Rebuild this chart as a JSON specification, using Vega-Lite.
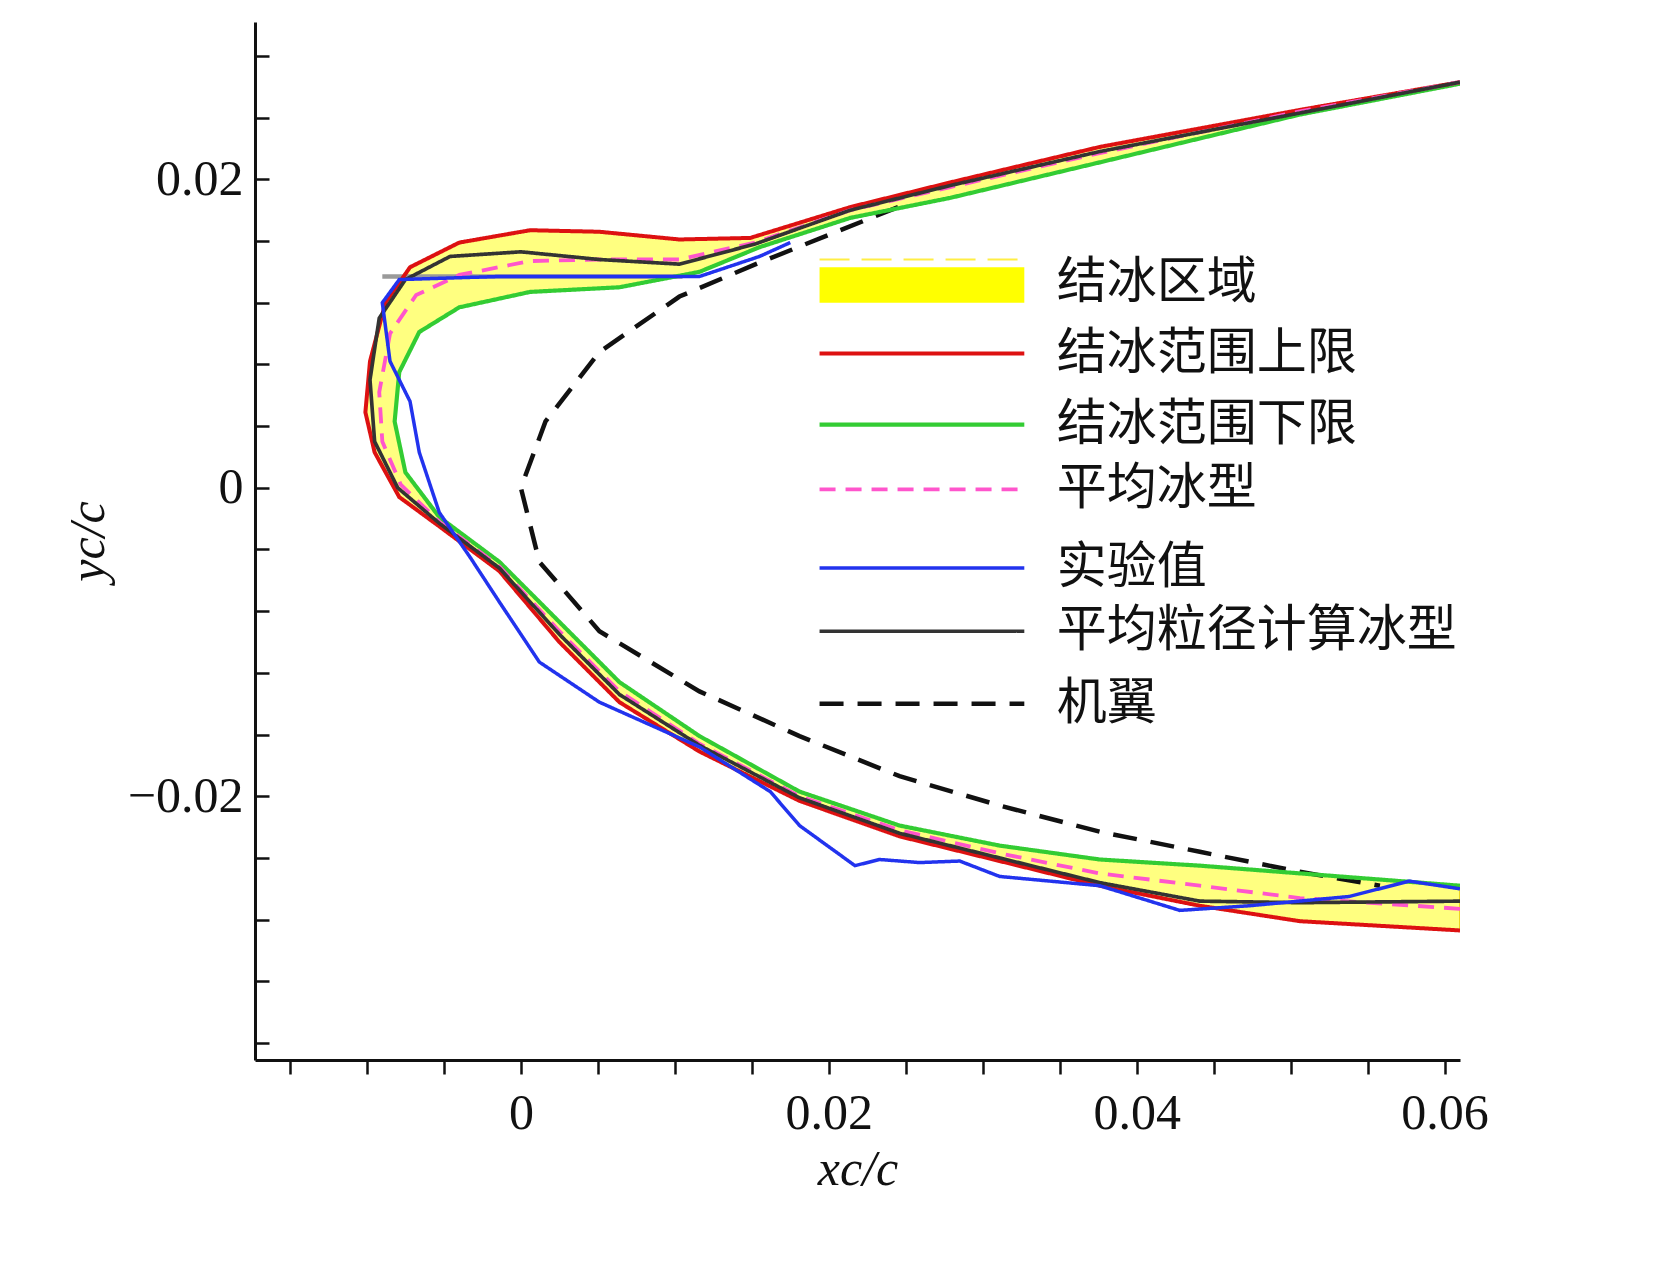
{
  "$schema": "https://vega.github.io/schema/vega-lite/v6.json",
  "autosize": "none",
  "width": 1205,
  "height": 1038,
  "padding": {"left": 255, "top": 22, "right": 199, "bottom": 220},
  "background": "white",
  "datasets": {
    "ice": [
      {"o":1,"x":0.061,"y":0.0263},{"o":2,"x":0.0506,"y":0.0245},{"o":3,"x":0.0376,"y":0.0221},{"o":4,"x":0.0279,"y":0.0198},{"o":5,"x":0.0214,"y":0.0182},{"o":6,"x":0.0149,"y":0.0162},{"o":7,"x":0.0103,"y":0.0161},{"o":8,"x":0.0051,"y":0.0166},{"o":9,"x":0.0006,"y":0.0167},{"o":10,"x":-0.004,"y":0.0159},{"o":11,"x":-0.0072,"y":0.0143},{"o":12,"x":-0.0088,"y":0.012},{"o":13,"x":-0.0098,"y":0.0082},{"o":14,"x":-0.0101,"y":0.0049},{"o":15,"x":-0.0095,"y":0.0023},{"o":16,"x":-0.0079,"y":-0.0006},{"o":17,"x":-0.0053,"y":-0.0025},{"o":18,"x":-0.0014,"y":-0.0054},{"o":19,"x":0.0025,"y":-0.01},{"o":20,"x":0.0064,"y":-0.0139},{"o":21,"x":0.0116,"y":-0.0171},{"o":22,"x":0.0181,"y":-0.0203},{"o":23,"x":0.0246,"y":-0.0226},{"o":24,"x":0.0311,"y":-0.0242},{"o":25,"x":0.0376,"y":-0.0258},{"o":26,"x":0.0441,"y":-0.0271},{"o":27,"x":0.0506,"y":-0.0281},{"o":28,"x":0.061,"y":-0.0287},
      {"o":29,"x":0.061,"y":-0.0258},{"o":30,"x":0.0506,"y":-0.025},{"o":31,"x":0.0441,"y":-0.0245},{"o":32,"x":0.0376,"y":-0.0241},{"o":33,"x":0.0311,"y":-0.0232},{"o":34,"x":0.0246,"y":-0.0219},{"o":35,"x":0.0181,"y":-0.0197},{"o":36,"x":0.0116,"y":-0.0161},{"o":37,"x":0.0064,"y":-0.0126},{"o":38,"x":0.0025,"y":-0.0087},{"o":39,"x":-0.0014,"y":-0.0048},{"o":40,"x":-0.0053,"y":-0.0019},{"o":41,"x":-0.0075,"y":0.001},{"o":42,"x":-0.0082,"y":0.0043},{"o":43,"x":-0.0079,"y":0.0075},{"o":44,"x":-0.0066,"y":0.0101},{"o":45,"x":-0.004,"y":0.0117},{"o":46,"x":0.0006,"y":0.0127},{"o":47,"x":0.0064,"y":0.013},{"o":48,"x":0.0116,"y":0.014},{"o":49,"x":0.0155,"y":0.0156},{"o":50,"x":0.0214,"y":0.0175},{"o":51,"x":0.0279,"y":0.0188},{"o":52,"x":0.0376,"y":0.0211},{"o":53,"x":0.0506,"y":0.0242},{"o":54,"x":0.061,"y":0.0262}
    ],
    "lines": [
      {"s":"机翼","o":1,"x":0.0245,"y":0.0182},{"s":"机翼","o":2,"x":0.0155,"y":0.0146},{"s":"机翼","o":3,"x":0.0103,"y":0.0124},{"s":"机翼","o":4,"x":0.0051,"y":0.0088},{"s":"机翼","o":5,"x":0.0016,"y":0.0043},{"s":"机翼","o":6,"x":0,"y":0},{"s":"机翼","o":7,"x":0.0012,"y":-0.0048},{"s":"机翼","o":8,"x":0.0051,"y":-0.0093},{"s":"机翼","o":9,"x":0.0116,"y":-0.0132},{"s":"机翼","o":10,"x":0.0181,"y":-0.0161},{"s":"机翼","o":11,"x":0.0246,"y":-0.0187},{"s":"机翼","o":12,"x":0.0311,"y":-0.0206},{"s":"机翼","o":13,"x":0.0376,"y":-0.0223},{"s":"机翼","o":14,"x":0.0441,"y":-0.0236},{"s":"机翼","o":15,"x":0.0506,"y":-0.0249},{"s":"机翼","o":16,"x":0.0558,"y":-0.0258},
      {"s":"gray","o":1,"x":-0.009,"y":0.0137},{"s":"gray","o":2,"x":0.0105,"y":0.0137},
      {"s":"结冰范围下限","o":1,"x":0.061,"y":0.0262},{"s":"结冰范围下限","o":2,"x":0.0506,"y":0.0242},{"s":"结冰范围下限","o":3,"x":0.0376,"y":0.0211},{"s":"结冰范围下限","o":4,"x":0.0279,"y":0.0188},{"s":"结冰范围下限","o":5,"x":0.0214,"y":0.0175},{"s":"结冰范围下限","o":6,"x":0.0155,"y":0.0156},{"s":"结冰范围下限","o":7,"x":0.0116,"y":0.014},{"s":"结冰范围下限","o":8,"x":0.0064,"y":0.013},{"s":"结冰范围下限","o":9,"x":0.0006,"y":0.0127},{"s":"结冰范围下限","o":10,"x":-0.004,"y":0.0117},{"s":"结冰范围下限","o":11,"x":-0.0066,"y":0.0101},{"s":"结冰范围下限","o":12,"x":-0.0079,"y":0.0075},{"s":"结冰范围下限","o":13,"x":-0.0082,"y":0.0043},{"s":"结冰范围下限","o":14,"x":-0.0075,"y":0.001},{"s":"结冰范围下限","o":15,"x":-0.0053,"y":-0.0019},{"s":"结冰范围下限","o":16,"x":-0.0014,"y":-0.0048},{"s":"结冰范围下限","o":17,"x":0.0025,"y":-0.0087},{"s":"结冰范围下限","o":18,"x":0.0064,"y":-0.0126},{"s":"结冰范围下限","o":19,"x":0.0116,"y":-0.0161},{"s":"结冰范围下限","o":20,"x":0.0181,"y":-0.0197},{"s":"结冰范围下限","o":21,"x":0.0246,"y":-0.0219},{"s":"结冰范围下限","o":22,"x":0.0311,"y":-0.0232},{"s":"结冰范围下限","o":23,"x":0.0376,"y":-0.0241},{"s":"结冰范围下限","o":24,"x":0.0441,"y":-0.0245},{"s":"结冰范围下限","o":25,"x":0.0506,"y":-0.025},{"s":"结冰范围下限","o":26,"x":0.061,"y":-0.0258},
      {"s":"结冰范围上限","o":1,"x":0.061,"y":0.0263},{"s":"结冰范围上限","o":2,"x":0.0506,"y":0.0245},{"s":"结冰范围上限","o":3,"x":0.0376,"y":0.0221},{"s":"结冰范围上限","o":4,"x":0.0279,"y":0.0198},{"s":"结冰范围上限","o":5,"x":0.0214,"y":0.0182},{"s":"结冰范围上限","o":6,"x":0.0149,"y":0.0162},{"s":"结冰范围上限","o":7,"x":0.0103,"y":0.0161},{"s":"结冰范围上限","o":8,"x":0.0051,"y":0.0166},{"s":"结冰范围上限","o":9,"x":0.0006,"y":0.0167},{"s":"结冰范围上限","o":10,"x":-0.004,"y":0.0159},{"s":"结冰范围上限","o":11,"x":-0.0072,"y":0.0143},{"s":"结冰范围上限","o":12,"x":-0.0088,"y":0.012},{"s":"结冰范围上限","o":13,"x":-0.0098,"y":0.0082},{"s":"结冰范围上限","o":14,"x":-0.0101,"y":0.0049},{"s":"结冰范围上限","o":15,"x":-0.0095,"y":0.0023},{"s":"结冰范围上限","o":16,"x":-0.0079,"y":-0.0006},{"s":"结冰范围上限","o":17,"x":-0.0053,"y":-0.0025},{"s":"结冰范围上限","o":18,"x":-0.0014,"y":-0.0054},{"s":"结冰范围上限","o":19,"x":0.0025,"y":-0.01},{"s":"结冰范围上限","o":20,"x":0.0064,"y":-0.0139},{"s":"结冰范围上限","o":21,"x":0.0116,"y":-0.0171},{"s":"结冰范围上限","o":22,"x":0.0181,"y":-0.0203},{"s":"结冰范围上限","o":23,"x":0.0246,"y":-0.0226},{"s":"结冰范围上限","o":24,"x":0.0311,"y":-0.0242},{"s":"结冰范围上限","o":25,"x":0.0376,"y":-0.0258},{"s":"结冰范围上限","o":26,"x":0.0441,"y":-0.0271},{"s":"结冰范围上限","o":27,"x":0.0506,"y":-0.0281},{"s":"结冰范围上限","o":28,"x":0.061,"y":-0.0287},
      {"s":"平均冰型","o":1,"x":0.061,"y":-0.0273},{"s":"平均冰型","o":2,"x":0.0506,"y":-0.0266},{"s":"平均冰型","o":3,"x":0.0441,"y":-0.0258},{"s":"平均冰型","o":4,"x":0.0376,"y":-0.025},{"s":"平均冰型","o":5,"x":0.0311,"y":-0.0237},{"s":"平均冰型","o":6,"x":0.0246,"y":-0.0222},{"s":"平均冰型","o":7,"x":0.0181,"y":-0.02},{"s":"平均冰型","o":8,"x":0.0116,"y":-0.0166},{"s":"平均冰型","o":9,"x":0.0064,"y":-0.0132},{"s":"平均冰型","o":10,"x":0.0025,"y":-0.0093},{"s":"平均冰型","o":11,"x":-0.0014,"y":-0.0051},{"s":"平均冰型","o":12,"x":-0.0053,"y":-0.0022},{"s":"平均冰型","o":13,"x":-0.0078,"y":0.0002},{"s":"平均冰型","o":14,"x":-0.009,"y":0.003},{"s":"平均冰型","o":15,"x":-0.0092,"y":0.0062},{"s":"平均冰型","o":16,"x":-0.0085,"y":0.01},{"s":"平均冰型","o":17,"x":-0.0068,"y":0.0125},{"s":"平均冰型","o":18,"x":-0.004,"y":0.0138},{"s":"平均冰型","o":19,"x":0.0006,"y":0.0147},{"s":"平均冰型","o":20,"x":0.0051,"y":0.0148},{"s":"平均冰型","o":21,"x":0.0103,"y":0.0148},{"s":"平均冰型","o":22,"x":0.0152,"y":0.0159},{"s":"平均冰型","o":23,"x":0.0214,"y":0.018},{"s":"平均冰型","o":24,"x":0.0279,"y":0.0195},{"s":"平均冰型","o":25,"x":0.0376,"y":0.0217},{"s":"平均冰型","o":26,"x":0.0506,"y":0.0244},{"s":"平均冰型","o":27,"x":0.061,"y":0.0263},
      {"s":"平均粒径计算冰型","o":1,"x":0.061,"y":0.0263},{"s":"平均粒径计算冰型","o":2,"x":0.0376,"y":0.0218},{"s":"平均粒径计算冰型","o":3,"x":0.0279,"y":0.0196},{"s":"平均粒径计算冰型","o":4,"x":0.0214,"y":0.018},{"s":"平均粒径计算冰型","o":5,"x":0.0152,"y":0.0158},{"s":"平均粒径计算冰型","o":6,"x":0.0103,"y":0.0145},{"s":"平均粒径计算冰型","o":7,"x":0.0051,"y":0.0148},{"s":"平均粒径计算冰型","o":8,"x":0,"y":0.0153},{"s":"平均粒径计算冰型","o":9,"x":-0.0046,"y":0.015},{"s":"平均粒径计算冰型","o":10,"x":-0.0075,"y":0.0135},{"s":"平均粒径计算冰型","o":11,"x":-0.0092,"y":0.011},{"s":"平均粒径计算冰型","o":12,"x":-0.0098,"y":0.007},{"s":"平均粒径计算冰型","o":13,"x":-0.0095,"y":0.003},{"s":"平均粒径计算冰型","o":14,"x":-0.008,"y":0},{"s":"平均粒径计算冰型","o":15,"x":-0.0053,"y":-0.0023},{"s":"平均粒径计算冰型","o":16,"x":-0.0014,"y":-0.0052},{"s":"平均粒径计算冰型","o":17,"x":0.0025,"y":-0.0095},{"s":"平均粒径计算冰型","o":18,"x":0.0064,"y":-0.0134},{"s":"平均粒径计算冰型","o":19,"x":0.0116,"y":-0.0167},{"s":"平均粒径计算冰型","o":20,"x":0.0181,"y":-0.0201},{"s":"平均粒径计算冰型","o":21,"x":0.0246,"y":-0.0224},{"s":"平均粒径计算冰型","o":22,"x":0.0311,"y":-0.024},{"s":"平均粒径计算冰型","o":23,"x":0.0376,"y":-0.0256},{"s":"平均粒径计算冰型","o":24,"x":0.0441,"y":-0.0268},{"s":"平均粒径计算冰型","o":25,"x":0.0506,"y":-0.0269},{"s":"平均粒径计算冰型","o":26,"x":0.061,"y":-0.0268},
      {"s":"实验值","o":1,"x":0.0175,"y":0.0159},{"s":"实验值","o":2,"x":0.0155,"y":0.015},{"s":"实验值","o":3,"x":0.0116,"y":0.0137},{"s":"实验值","o":4,"x":0.0051,"y":0.0137},{"s":"实验值","o":5,"x":-0.0014,"y":0.0137},{"s":"实验值","o":6,"x":-0.0079,"y":0.0135},{"s":"实验值","o":7,"x":-0.009,"y":0.012},{"s":"实验值","o":8,"x":-0.0085,"y":0.0082},{"s":"实验值","o":9,"x":-0.0072,"y":0.0056},{"s":"实验值","o":10,"x":-0.0066,"y":0.0023},{"s":"实验值","o":11,"x":-0.0053,"y":-0.0016},{"s":"实验值","o":12,"x":-0.0033,"y":-0.0045},{"s":"实验值","o":13,"x":-0.0014,"y":-0.0074},{"s":"实验值","o":14,"x":0.0012,"y":-0.0113},{"s":"实验值","o":15,"x":0.0051,"y":-0.0139},{"s":"实验值","o":16,"x":0.0116,"y":-0.0168},{"s":"实验值","o":17,"x":0.0162,"y":-0.0197},{"s":"实验值","o":18,"x":0.0181,"y":-0.0219},{"s":"实验值","o":19,"x":0.0217,"y":-0.0245},{"s":"实验值","o":20,"x":0.0233,"y":-0.0241},{"s":"实验值","o":21,"x":0.0259,"y":-0.0243},{"s":"实验值","o":22,"x":0.0285,"y":-0.0242},{"s":"实验值","o":23,"x":0.0311,"y":-0.0252},{"s":"实验值","o":24,"x":0.0376,"y":-0.0258},{"s":"实验值","o":25,"x":0.0428,"y":-0.0274},{"s":"实验值","o":26,"x":0.0473,"y":-0.0271},{"s":"实验值","o":27,"x":0.0538,"y":-0.0265},{"s":"实验值","o":28,"x":0.0577,"y":-0.0255},{"s":"实验值","o":29,"x":0.061,"y":-0.026}
    ],
    "leg": [
      {"s":"结冰范围上限","y":0.0087},
      {"s":"结冰范围下限","y":0.0041},
      {"s":"平均冰型","y":-0.0001},
      {"s":"实验值","y":-0.0052},
      {"s":"平均粒径计算冰型","y":-0.0093},
      {"s":"机翼","y":-0.014}
    ],
    "legtext": [
      {"t":"结冰区域","y":0.0133},
      {"t":"结冰范围上限","y":0.0087},
      {"t":"结冰范围下限","y":0.0041},
      {"t":"平均冰型","y":-0.0001},
      {"t":"实验值","y":-0.0052},
      {"t":"平均粒径计算冰型","y":-0.0093},
      {"t":"机翼","y":-0.014}
    ]
  },
  "encoding": {
    "x": {"type": "quantitative"},
    "y": {"type": "quantitative"}
  },
  "layer": [
    {
      "data": {"name": "ice"},
      "mark": {"type": "line", "fill": "#ffff80", "stroke": "#e8c800", "strokeWidth": 1.5, "clip": true},
      "encoding": {
        "x": {"field": "x", "type": "quantitative",
          "scale": {"domain": [-0.01727, 0.061], "nice": false, "zero": false},
          "axis": {"values": [-0.015,-0.01,-0.005,0,0.005,0.01,0.015,0.02,0.025,0.03,0.035,0.04,0.045,0.05,0.055,0.06],
            "labelExpr": "abs(datum.value*50 - round(datum.value*50)) < 0.001 ? (datum.value == 0 ? '0' : format(datum.value, '.2f')) : ''",
            "labelOverlap": false, "labelFlush": false,
            "title": "xc/c", "titleFontStyle": "italic", "grid": false, "tickSize": 14, "labelPadding": 14, "titlePadding": 6}},
        "y": {"field": "y", "type": "quantitative",
          "scale": {"domain": [-0.0371, 0.0302], "nice": false, "zero": false},
          "axis": {"values": [-0.036,-0.034,-0.032,-0.03,-0.028,-0.026,-0.024,-0.022,-0.02,-0.018,-0.016,-0.014,-0.012,-0.01,-0.008,-0.006,-0.004,-0.002,0,0.002,0.004,0.006,0.008,0.01,0.012,0.014,0.016,0.018,0.02,0.022,0.024,0.026,0.028,0.03],
            "labelExpr": "abs(datum.value*100 - round(datum.value*100)) < 0.001 ? (datum.value == 0 ? '0' : replace(format(datum.value, '.2f'), '-', '−')) : ''",
            "labelOverlap": false, "labelFlush": false,
            "title": "yc/c", "titleFontStyle": "italic", "grid": false, "tickSize": -14, "labelPadding": 26, "titlePadding": 14}},
        "order": {"field": "o", "type": "quantitative"}
      }
    },
    {
      "data": {"name": "lines"},
      "mark": {"type": "line", "clip": true},
      "encoding": {
        "x": {"field": "x", "type": "quantitative"},
        "y": {"field": "y", "type": "quantitative"},
        "order": {"field": "o", "type": "quantitative"},
        "detail": {"field": "s"},
        "color": {"field": "s", "type": "nominal", "legend": null,
          "scale": {"domain": ["机翼","gray","结冰范围下限","结冰范围上限","平均冰型","平均粒径计算冰型","实验值"],
                    "range": ["#111111","#9a9a9a","#33cc33","#dd1111","#ff55cc","#333333","#2233ee"]}},
        "strokeDash": {"field": "s", "type": "nominal", "legend": null,
          "scale": {"domain": ["机翼","gray","结冰范围下限","结冰范围上限","平均冰型","平均粒径计算冰型","实验值"],
                    "range": [[24,14],[1,0],[1,0],[1,0],[16,10],[1,0],[1,0]]}},
        "strokeWidth": {"field": "s", "type": "nominal", "legend": null,
          "scale": {"domain": ["机翼","gray","结冰范围下限","结冰范围上限","平均冰型","平均粒径计算冰型","实验值"],
                    "range": [4.5,3.5,5,5,4,2.5,3.5]}}
      }
    },
    {
      "data": {"values": [{"x": 0.0194, "x2": 0.0327, "y": 0.0143, "y2": 0.012}]},
      "mark": {"type": "rect", "color": "#ffff00"},
      "encoding": {"x": {"field": "x", "type": "quantitative"}, "x2": {"field": "x2"}, "y": {"field": "y", "type": "quantitative"}, "y2": {"field": "y2"}}
    },
    {
      "data": {"values": [{"x": 0.0194, "x2": 0.0327, "y": 0.0148}]},
      "mark": {"type": "rule", "color": "#ffee44", "strokeWidth": 2, "strokeDash": [30, 12]},
      "encoding": {"x": {"field": "x", "type": "quantitative"}, "x2": {"field": "x2"}, "y": {"field": "y", "type": "quantitative"}}
    },
    {
      "data": {"name": "leg"},
      "transform": [{"calculate": "0.0194", "as": "xa"}, {"calculate": "0.0327", "as": "xb"}],
      "mark": {"type": "rule"},
      "encoding": {
        "x": {"field": "xa", "type": "quantitative"}, "x2": {"field": "xb"},
        "y": {"field": "y", "type": "quantitative"},
        "color": {"field": "s", "type": "nominal", "legend": null},
        "strokeDash": {"field": "s", "type": "nominal", "legend": null},
        "strokeWidth": {"field": "s", "type": "nominal", "legend": null}
      }
    },
    {
      "data": {"name": "legtext"},
      "transform": [{"calculate": "0.0348", "as": "xt"}],
      "mark": {"type": "text", "align": "left", "baseline": "middle", "fontSize": 50, "font": "Noto Sans CJK SC", "color": "#111"},
      "encoding": {"x": {"field": "xt", "type": "quantitative"}, "y": {"field": "y", "type": "quantitative"}, "text": {"field": "t"}}
    }
  ],
  "resolve": {"scale": {"color": "shared", "strokeDash": "shared", "strokeWidth": "shared"}},
  "config": {
    "view": {"stroke": null},
    "font": "Liberation Serif",
    "axis": {"labelFontSize": 50, "titleFontSize": 50, "labelColor": "#111", "titleColor": "#111",
      "domainColor": "#111", "tickColor": "#111", "domainWidth": 3, "tickWidth": 2.5, "labelFont": "Liberation Serif", "titleFont": "Liberation Serif", "titleFontWeight": "normal"}
  }
}
